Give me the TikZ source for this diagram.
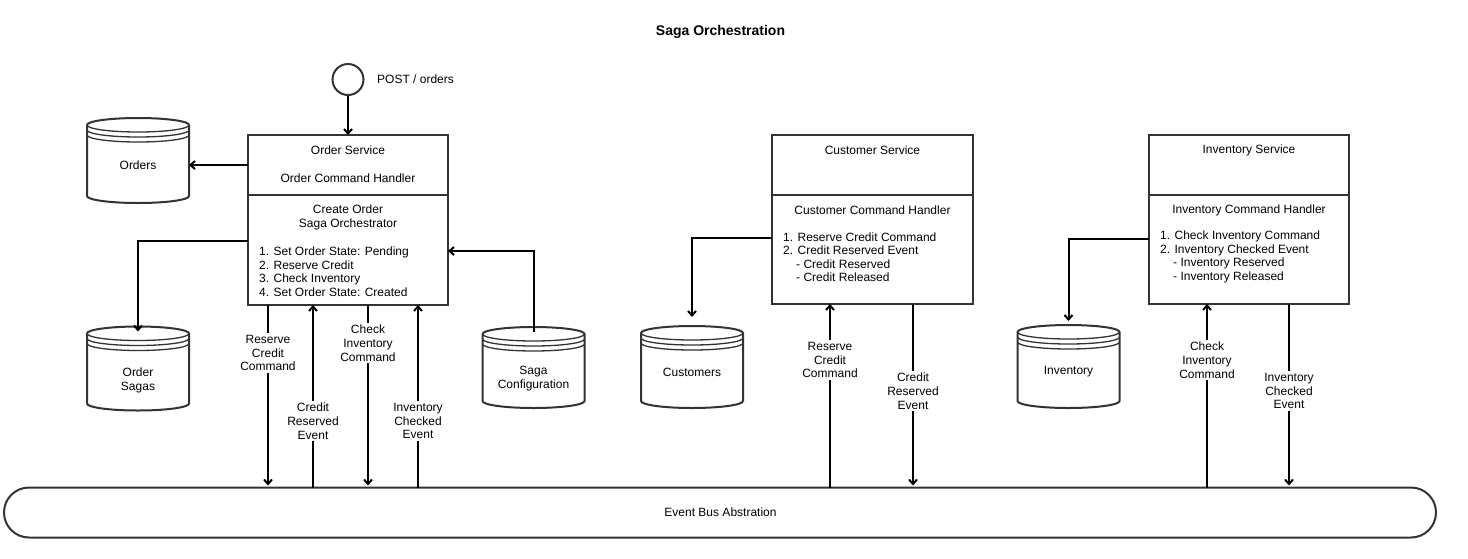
\documentclass[tikz,border=0pt]{standalone}
\usepackage{fontspec}
\setmainfont{Liberation Sans}
\usetikzlibrary{arrows.meta,calc}
\definecolor{dgray}{HTML}{333333}
\tikzset{
  base/.style={font=\fontsize{12}{13.8}\selectfont, text=black},
  box/.style={draw=dgray, line width=2pt, rectangle, inner sep=0pt, outer sep=0pt},
  txt/.style={base, inner sep=0pt, align=center},
  lst/.style={base, inner sep=0pt, align=left, anchor=west, font=\fontsize{12}{13.5}\selectfont},
  arr/.style={draw=black, line width=2pt, -{Straight Barb[length=4.5pt,width=8pt]}},
  lbl/.style={base, fill=white, inner sep=2pt, align=center},
  dsnode/.style={base, minimum width=102pt, inner sep=0pt, outer sep=0pt, align=center},
}
\newcommand{\dstore}[1]{%
  \draw[dgray, line width=2pt, fill=white] ($(#1.north west)+(0,7)$) -- ($(#1.south west)+(0,-7)$)
    arc[start angle=180, end angle=360, x radius=51pt, y radius=7pt]
    -- ($(#1.north east)+(0,7)$)
    arc[start angle=0, end angle=180, x radius=51pt, y radius=7pt] -- cycle;
  \draw[dgray, line width=1.3pt] ($(#1.north west)+(0,7)$) arc[start angle=180, end angle=360, x radius=51pt, y radius=7pt];
  \draw[dgray, line width=1.3pt] ($(#1.north west)+(0,12)$) arc[start angle=180, end angle=360, x radius=51pt, y radius=7pt];
  \draw[dgray, line width=1.3pt] ($(#1.north west)+(0,17)$) arc[start angle=180, end angle=360, x radius=51pt, y radius=7pt];
}
\begin{document}
\begin{tikzpicture}[x=1pt, y=-1pt]
\useasboundingbox (0,0) rectangle (1468,558);

% title
\node[txt, font=\fontsize{14}{16}\selectfont\bfseries] (title) at (720.5,32) {Saga Orchestration};

% start circle
\node[draw=dgray, line width=2pt, circle, minimum size=31pt, inner sep=0pt] (start) at (348,79.5) {};
\node[txt, anchor=west] (post) at (377,79) {POST / orders};

% Order service
\node[box, minimum width=200pt, minimum height=60pt] (ostop) at (348,165) {};
\node[box, minimum width=200pt, minimum height=110pt] (osbot) at (348,250) {};
\node[txt] (ostitle) at (348,150) {Order Service};
\node[txt] (osch) at (348,178) {Order Command Handler};
\node[txt, font=\fontsize{12}{14}\selectfont] (oscreate) at (348,217) {Create Order\\Saga Orchestrator};
\node[lst] (oslist) at (259,271.5) {1. Set Order State: Pending\\2. Reserve Credit\\3. Check Inventory\\4. Set Order State: Created};

% Customer service
\node[box, minimum width=201pt, minimum height=60pt] (cstop) at (872.5,165) {};
\node[box, minimum width=201pt, minimum height=109pt] (csbot) at (872.5,249.5) {};
\node[txt] (cstitle) at (872.5,150) {Customer Service};
\node[txt] (csch) at (872.5,210) {Customer Command Handler};
\node[lst] (cslist) at (783,257) {1. Reserve Credit Command\\2. Credit Reserved Event\\\hspace*{13pt}- Credit Reserved\\\hspace*{13pt}- Credit Released};

% Inventory service
\node[box, minimum width=200pt, minimum height=60pt] (istop) at (1249,165) {};
\node[box, minimum width=200pt, minimum height=109pt] (isbot) at (1249,249.5) {};
\node[txt] (istitle) at (1249,150) {Inventory Service};
\node[txt] (isch) at (1249,210) {Inventory Command Handler};
\node[lst] (islist) at (1160,257) {1. Check Inventory Command\\2. Inventory Checked Event\\\hspace*{13pt}- Inventory Reserved\\\hspace*{13pt}- Inventory Released};

% data stores
\node[dsnode, minimum height=85pt] (orders) at (138,160.5) {};
\node[dsnode, minimum height=84pt] (sagas) at (138,368.5) {};
\node[dsnode, minimum height=81pt] (cfg) at (533.5,367.5) {};
\node[dsnode, minimum height=82pt] (cust) at (692,367) {};
\node[dsnode, minimum height=83pt] (inv) at (1068.5,366.5) {};
\dstore{orders}
\dstore{sagas}
\dstore{cfg}
\dstore{cust}
\dstore{inv}
\node[txt] (orderst) at (138,165) {Orders};
\node[txt, font=\fontsize{12}{14}\selectfont] (sagast) at (138,380) {Order\\Sagas};
\node[txt, font=\fontsize{12}{14}\selectfont] (cfgt) at (533.5,379) {Saga\\Configuration};
\node[txt] (custt) at (692,372) {Customers};
\node[txt] (invt) at (1068.5,372) {Inventory};

% event bus
\node[draw=dgray, line width=2pt, rectangle, rounded corners=25pt, minimum width=1432pt, minimum height=50pt, inner sep=0pt, outer sep=0pt] (bus) at (720,512.5) {};
\node[txt] (bust) at (720.5,512.5) {Event Bus Abstration};

% x positions
\coordinate (xa) at (268,0);
\coordinate (xb) at (313,0);
\coordinate (xc) at (368,0);
\coordinate (xd) at (418,0);
\coordinate (xe) at (830,0);
\coordinate (xf) at (913,0);
\coordinate (xg) at (1207,0);
\coordinate (xh) at (1289,0);

% connectors
\draw[arr] (start) -- (ostop.north);
\draw[arr] (ostop.west) -- (orders.east |- ostop.west);
\draw[arr] ($(osbot.north west)+(0,46)$) -| ($(sagas.north)+(0,5)$);
\draw[arr] ($(cfg.north)+(0,5)$) |- ($(osbot.north east)+(0,56)$);
\draw[arr] ($(csbot.north west)+(0,43)$) -| ($(cust.north)+(0,-9)$);
\draw[arr] ($(isbot.north west)+(0,44)$) -| ($(inv.north)+(0,-4)$);

\draw[arr] (osbot.south -| xa) -- ($(bus.north -| xa)+(0,-2)$);
\draw[arr] (bus.north -| xb) -- (osbot.south -| xb);
\draw[arr] (osbot.south -| xc) -- ($(bus.north -| xc)+(0,-2)$);
\draw[arr] (bus.north -| xd) -- (osbot.south -| xd);
\draw[arr] (bus.north -| xe) -- (csbot.south -| xe);
\draw[arr] (csbot.south -| xf) -- ($(bus.north -| xf)+(0,-2)$);
\draw[arr] (bus.north -| xg) -- (isbot.south -| xg);
\draw[arr] (isbot.south -| xh) -- ($(bus.north -| xh)+(0,-2)$);

% connector labels
\node[lbl] (la) at (268,353) {Reserve\\Credit\\Command};
\node[lbl] (lb) at (313,421) {Credit\\Reserved\\Event};
\node[lbl] (lc) at (368,343) {Check\\Inventory\\Command};
\node[lbl] (ld) at (418,421) {Inventory\\Checked\\Event};
\node[lbl] (le) at (830,360) {Reserve\\Credit\\Command};
\node[lbl] (lf) at (913,391) {Credit\\Reserved\\Event};
\node[lbl] (lg) at (1207,360) {Check\\Inventory\\Command};
\node[lbl] (lh) at (1289,391) {Inventory\\Checked\\Event};
\end{tikzpicture}
\end{document}
